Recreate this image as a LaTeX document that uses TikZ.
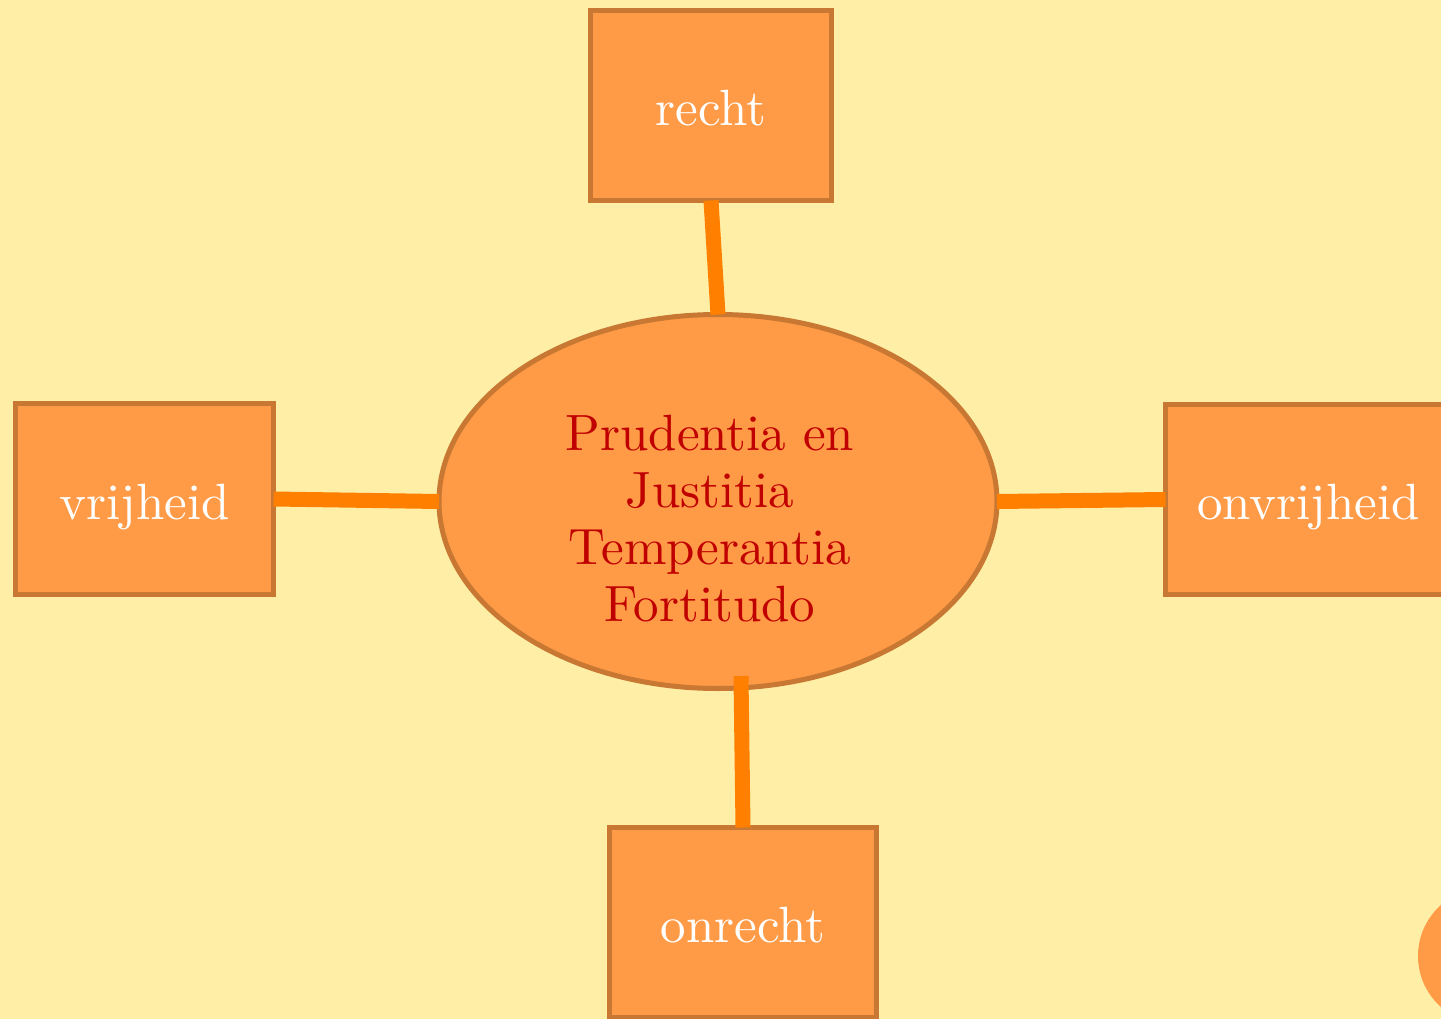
\documentclass[tikz,border=0pt]{standalone}
\usetikzlibrary{shapes.geometric}
\font\lmbig="[lmroman10-regular]:+tlig;" at 51pt
\newcommand\bigfontset{\lmbig\baselineskip=57pt\relax}
\definecolor{bgyellow}{HTML}{FEEEA6}
\definecolor{boxfill}{HTML}{FF9A46}
\definecolor{boxline}{HTML}{C87832}
\definecolor{linkorange}{HTML}{FF8000}
\definecolor{textred}{HTML}{C00000}
\tikzset{
  termbox/.style={draw=boxline, fill=boxfill, line width=5pt, rectangle,
    inner sep=0pt, outer sep=0pt, text=white, font=\bigfontset,
    text height=40pt, text depth=0pt},
  centreell/.style={draw=boxline, fill=boxfill, line width=5pt, ellipse,
    inner sep=0pt, outer sep=0pt, minimum width=558pt, minimum height=374pt},
  centretext/.style={text=textred, font=\bigfontset, align=center, inner sep=0pt},
  link/.style={draw=linkorange, line width=15pt, line cap=butt}
}
\begin{document}
\begin{tikzpicture}[x=1pt, y=-1pt]
  \useasboundingbox (0,0) rectangle (1441,1019);
  \clip (0,0) rectangle (1441,1019);
  \fill[bgyellow] (0,0) rectangle (1441,1019);
  % decorative circle at bottom right
  \fill[boxfill] (1486,956) circle[radius=68pt];
  % nodes
  \node[centreell] (ell) at (718,501.5) {};
  \node[termbox, minimum width=241pt, minimum height=190pt] (recht) at (711,105.5) {recht};
  \node[termbox, minimum width=258pt, minimum height=191pt] (vrij) at (144.5,499) {vrijheid};
  \node[termbox, minimum width=286pt, minimum height=190pt] (onvrij) at (1308.5,499.5) {onvrijheid};
  \node[termbox, minimum width=267pt, minimum height=190pt] (onrecht) at (743,922.5) {onrecht};
  % connectors
  \draw[link] (recht.south) -- (ell.north);
  \draw[link] (vrij.east) -- (ell.west);
  \draw[link] (ell.east) -- (onvrij.west);
  \draw[link] ([shift={(23,-12.5)}]ell.south) -- (onrecht.north);
  % text of the central ellipse
  \node[centretext] (elltext) at (710,518.5) {Prudentia en\\Justitia\\Temperantia\\Fortitudo};
\end{tikzpicture}
\end{document}
